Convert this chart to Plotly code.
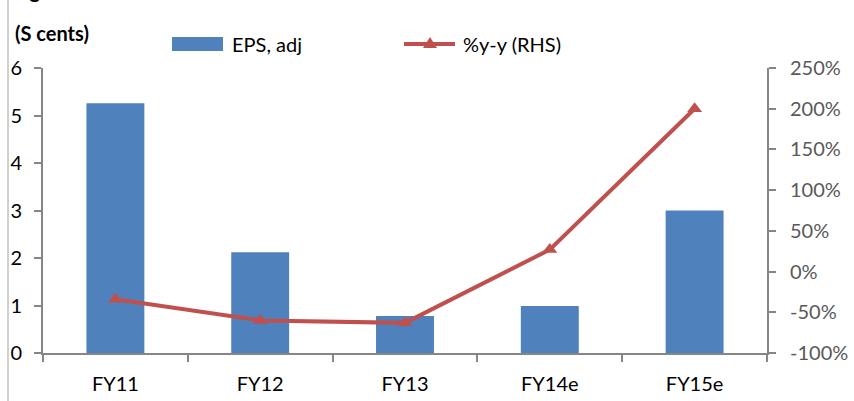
import plotly.graph_objects as go

# EPS (adjusted, S cents) and year-on-year growth
years = ["FY11", "FY12", "FY13", "FY14e", "FY15e"]
eps_adj = [5.26, 2.12, 0.78, 0.99, 3.0]
yoy_pct = [-34, -60, -63, 27, 200]

# right-hand axis ticks (percent)
rhs_ticks = [-100, -50, 0, 50, 100, 150, 200, 250]
rhs_labels = ["-100%", "-50%", "0%", "50%", "100%", "150%", "200%", "250%"]

BLUE = "#4F81BD"
RED = "#C0504D"
AXIS = "#868686"
FONT = "Lato, Open Sans, sans-serif"
FS = 20

fig = go.Figure()
fig.add_trace(go.Bar(
    x=years, y=eps_adj, name="EPS, adj",
    marker=dict(color=BLUE, line=dict(width=0)),
    width=0.4, yaxis="y",
))
fig.add_trace(go.Scatter(
    x=years, y=yoy_pct, name="%y-y (RHS)", yaxis="y2",
    mode="lines+markers",
    line=dict(color=RED, width=4),
    marker=dict(symbol="triangle-up", size=13, color=RED),
))

L, R, T, B = 43, 87, 68, 48
W, H = 854, 401
pw, ph = W - L - R, H - T - B

def px(x):
    return (x - L) / pw

def py(y):
    return (H - B - y) / ph

shapes = [
    # frame line at left edge
    dict(type="line", xref="paper", yref="paper", x0=px(8), x1=px(8),
         y0=py(0), y1=py(H), line=dict(color="#D0D0D0", width=2)),
    # legend: bar swatch
    dict(type="rect", xref="paper", yref="paper",
         x0=px(172), x1=px(223), y0=py(37), y1=py(51),
         fillcolor=BLUE, line=dict(width=0)),
    # legend: line swatch
    dict(type="line", xref="paper", yref="paper",
         x0=px(404), x1=px(455), y0=py(44), y1=py(44),
         line=dict(color=RED, width=4)),
    dict(type="path", xref="paper", yref="paper",
         path=f"M {px(423)} {py(48)} L {px(437)} {py(48)} L {px(430)} {py(37)} Z",
         fillcolor=RED, line=dict(width=0)),
]

annotations = [
    dict(text="<b>(S cents)</b>", xref="paper", yref="paper",
         x=px(13), y=py(33), xanchor="left", yanchor="middle",
         showarrow=False, font=dict(family=FONT, size=FS, color="#000")),
    dict(text="<b>Figure</b>", xref="paper", yref="paper",
         x=px(11), y=py(-10), xanchor="left", yanchor="middle",
         showarrow=False, font=dict(family=FONT, size=FS, color="#000")),
    dict(text="EPS, adj", xref="paper", yref="paper",
         x=px(230), y=py(44), xanchor="left", yanchor="middle",
         showarrow=False, font=dict(family=FONT, size=FS, color="#000")),
    dict(text="%y-y (RHS)", xref="paper", yref="paper",
         x=px(461), y=py(44), xanchor="left", yanchor="middle",
         showarrow=False, font=dict(family=FONT, size=FS, color="#000")),
]

fig.update_layout(
    width=W, height=H,
    margin=dict(l=L, r=R, t=T, b=B, pad=0, autoexpand=False),
    paper_bgcolor="white", plot_bgcolor="white",
    showlegend=False,
    font=dict(family=FONT, size=FS, color="#000"),
    xaxis=dict(
        type="category", tickson="boundaries", ticks="outside", ticklen=7,
        tickcolor=AXIS, tickwidth=2, showline=True, linecolor=AXIS, linewidth=2,
        showgrid=False, ticklabelstandoff=12, automargin=False,
        tickfont=dict(family=FONT, size=FS, color="#000"),
    ),
    yaxis=dict(
        range=[0, 6], dtick=1, ticks="outside", ticklen=7, tickcolor=AXIS,
        tickwidth=2, showline=True, linecolor=AXIS, linewidth=2,
        showgrid=False, zeroline=False, ticklabelstandoff=8, automargin=False,
        tickfont=dict(family=FONT, size=FS, color="#000"),
    ),
    yaxis2=dict(
        overlaying="y", side="right", range=[-100, 250],
        tickvals=rhs_ticks, ticktext=rhs_labels,
        ticks="outside", ticklen=7, tickcolor=AXIS,
        tickwidth=2, showline=True, linecolor=AXIS, linewidth=2,
        showgrid=False, zeroline=False, ticklabelstandoff=10, automargin=False,
        tickfont=dict(family=FONT, size=FS, color="#595959"),
    ),
    shapes=shapes,
    annotations=annotations,
)

fig.write_html("out.html")
